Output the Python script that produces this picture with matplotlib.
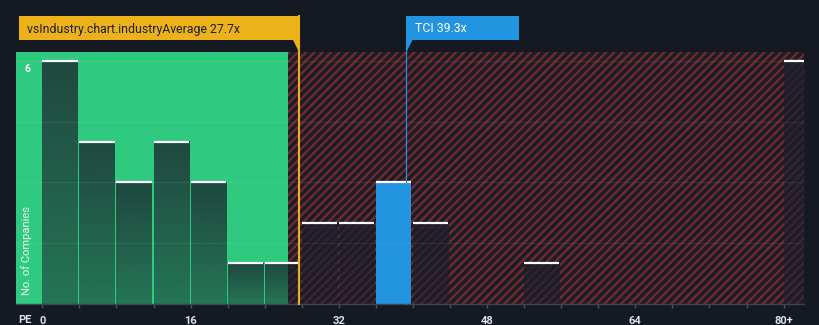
import numpy as np
import matplotlib.pyplot as plt
from matplotlib.patches import Rectangle, Polygon
from matplotlib.transforms import blended_transform_factory

plt.rcParams['font.family'] = ['Roboto', 'DejaVu Sans']
plt.rcParams['hatch.linewidth'] = 1.6

# histogram of PE ratios, bins of width 4 (last bin is 80+)
bin_starts = [0, 4, 8, 12, 16, 20, 24, 28, 32, 36, 40, 44, 48, 52, 56, 60, 64, 68, 72, 76, 80]
counts = [6, 4, 3, 4, 3, 1, 1, 2, 2, 3, 2, 0, 0, 1, 0, 0, 0, 0, 0, 0, 6]
tick_values = [0, 16, 32, 48, 64, 80]
tick_labels = ['0', '16', '32', '48', '64', '80+']
grid_levels = [1.5, 3, 4.5, 6]
industry_avg = 27.7
tci_pe = 39.3
green_edge = 26.5
industry_text = 'vsIndustry.chart.industryAverage 27.7x'
tci_text = 'TCI 39.3x'

bg = '#151a22'
green = '#2fca80'
yellow = '#edb11a'
blue = '#2394e0'

fig = plt.figure(figsize=(8.2, 3.25), dpi=100, facecolor=bg)
ax = fig.add_axes([16 / 820, 21 / 325, 788 / 820, 252 / 325])
ax.set_facecolor(bg)

x_min, x_max = -2.84, 82.2
y_max = 6.22

# good-value zone and hatched expensive zone
ax.axvspan(x_min, green_edge, color=green, lw=0, zorder=0)
ax.axvspan(green_edge, x_max, facecolor='#1b1e26', edgecolor='#762a30',
           hatch='////', lw=0, zorder=0)

bar_w = 3.8
bar_rgb = np.array([26, 31, 43]) / 255
grad = np.zeros((64, 1, 4))
grad[:, 0, :3] = bar_rgb
grad[:, 0, 3] = np.linspace(0.76, 0.5, 64)

for x0, c in zip(bin_starts, counts):
    if c == 0:
        continue
    if x0 <= tci_pe < x0 + 4:
        ax.add_patch(Rectangle((x0, 0), bar_w, c, facecolor=blue, lw=0, zorder=3))
    else:
        ax.imshow(grad, extent=(x0, x0 + bar_w, 0, c), aspect='auto',
                  interpolation='bilinear', zorder=2)
    ax.hlines(c, x0, x0 + bar_w, color='white', lw=1.6, zorder=4)

for g in grid_levels:
    ax.axhline(g, color='white', alpha=0.06, lw=1, zorder=5)

ax.set_xlim(x_min, x_max)
ax.set_ylim(0, y_max)

for s in ['top', 'right', 'left']:
    ax.spines[s].set_visible(False)
ax.spines['bottom'].set_color('#3d444f')
ax.spines['bottom'].set_linewidth(1)
ax.spines['bottom'].set_zorder(6)

ax.set_xticks(tick_values)
ax.set_xticklabels(tick_labels, fontweight='semibold')
ax.set_xticks(bin_starts, minor=True)
ax.tick_params(axis='x', which='both', length=3, color='#4a515c', width=1)
ax.tick_params(axis='x', which='major', pad=5.5, labelsize=8, labelcolor='#dfe2e7')
ax.set_yticks([])

ax.text(-1.55, 5.8, '6', color='white', fontsize=7.5, fontweight='semibold',
        ha='center', va='center', zorder=7)
ax.text(-1.65, 1.31, 'No. of Companies', color='white', alpha=0.9, fontsize=8,
        rotation=90, ha='center', va='center', zorder=7)
fig.text(18 / 820, 1 - 320 / 325, 'PE', color='#dfe2e7', fontsize=8,
         fontweight='semibold', ha='left', va='center')

# marker boxes above the plot
tr = blended_transform_factory(ax.transData, fig.transFigure)
y_top = 1 - 16 / 325
y_bot = 1 - 40 / 325
y_tip = 1 - 52 / 325
y_axis = 21 / 325

yl = industry_avg - 30.2
fig.add_artist(Rectangle((yl, y_bot), industry_avg - yl, y_top - y_bot,
                         transform=tr, facecolor=yellow, lw=0, zorder=8))
fig.add_artist(Polygon([(industry_avg - 0.65, y_bot), (industry_avg, y_bot), (industry_avg, y_tip)],
                       closed=True, transform=tr, facecolor=yellow, lw=0, zorder=8))
ax.plot([industry_avg, industry_avg], [y_top, y_axis], transform=tr, color=yellow,
        lw=1.5, clip_on=False, zorder=9)
fig.text(yl + 0.86, 1 - 29 / 325, industry_text, transform=tr, color='#1a1f27',
         fontsize=8.8, ha='left', va='center', zorder=10)

bw = 12.1
fig.add_artist(Rectangle((tci_pe, y_bot), bw, y_top - y_bot,
                         transform=tr, facecolor=blue, lw=0, zorder=8))
fig.add_artist(Polygon([(tci_pe, y_bot), (tci_pe + 0.65, y_bot), (tci_pe, y_tip)],
                       closed=True, transform=tr, facecolor=blue, lw=0, zorder=8))
ax.plot([tci_pe, tci_pe], [y_top, y_axis], transform=tr, color=blue,
        lw=0.8, clip_on=False, zorder=9)
fig.text(tci_pe + 0.95, 1 - 29 / 325, tci_text, transform=tr, color='white',
         fontsize=8.8, ha='left', va='center', zorder=10)

fig.savefig('out.png', dpi=100, facecolor=bg)
